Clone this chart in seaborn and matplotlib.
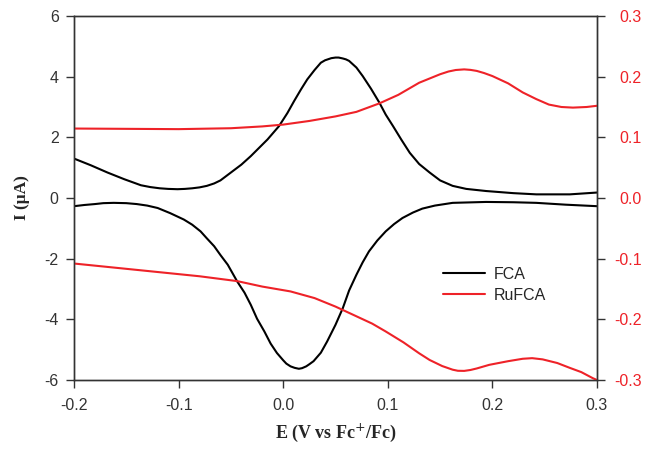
import numpy as np
import pandas as pd
import matplotlib
matplotlib.use("Agg")
import matplotlib.pyplot as plt
from matplotlib.lines import Line2D
import seaborn as sns

# FCA, anodic sweep (left axis, uA)
fca_fwd_x = [-0.200, -0.184, -0.168, -0.152, -0.136, -0.127, -0.118, -0.110, -0.101, -0.094,
             -0.087, -0.080, -0.073, -0.066, -0.060, -0.050, -0.040, -0.031, -0.015, -0.004,
             0.004, 0.0105, 0.017, 0.023, 0.030, 0.036, 0.040, 0.046, 0.050, 0.053,
             0.057, 0.060, 0.063, 0.070, 0.076, 0.084, 0.092, 0.098, 0.105, 0.113,
             0.121, 0.130, 0.140, 0.150, 0.162, 0.175, 0.194, 0.220, 0.242, 0.274,
             0.300]
fca_fwd_y = [1.30, 1.08, 0.84, 0.62, 0.42, 0.36, 0.32, 0.30, 0.29, 0.30,
             0.32, 0.35, 0.40, 0.48, 0.58, 0.84, 1.10, 1.38, 1.93, 2.37,
             2.80, 3.20, 3.58, 3.91, 4.22, 4.46, 4.54, 4.61, 4.63, 4.63,
             4.60, 4.57, 4.52, 4.30, 4.02, 3.60, 3.14, 2.75, 2.37, 1.92,
             1.49, 1.12, 0.84, 0.58, 0.40, 0.30, 0.23, 0.16, 0.12, 0.12,
             0.18]
# FCA, cathodic sweep
fca_rev_x = [0.300, 0.270, 0.242, 0.220, 0.194, 0.162, 0.145, 0.133, 0.124, 0.114,
             0.106, 0.098, 0.090, 0.082, 0.076, 0.070, 0.063, 0.057, 0.050, 0.042,
             0.036, 0.029, 0.025, 0.022, 0.018, 0.015, 0.011, 0.007, 0.003, 0.000,
             -0.006, -0.012, -0.018, -0.025, -0.031, -0.037, -0.044, -0.053, -0.060, -0.066,
             -0.073, -0.079, -0.087, -0.095, -0.108, -0.120, -0.130, -0.140, -0.150, -0.162,
             -0.172, -0.180, -0.190, -0.200]
fca_rev_y = [-0.27, -0.22, -0.16, -0.14, -0.13, -0.16, -0.25, -0.35, -0.48, -0.66,
             -0.86, -1.10, -1.40, -1.76, -2.12, -2.53, -3.05, -3.63, -4.18, -4.73,
             -5.10, -5.38, -5.48, -5.55, -5.61, -5.63, -5.60, -5.55, -5.46, -5.35,
             -5.11, -4.80, -4.40, -3.98, -3.52, -3.12, -2.75, -2.20, -1.88, -1.59,
             -1.33, -1.10, -0.88, -0.71, -0.50, -0.33, -0.25, -0.20, -0.17, -0.16,
             -0.17, -0.20, -0.23, -0.27]

# RuFCA (right axis)
ru_fwd_x = [-0.200, -0.150, -0.100, -0.050, -0.020, 0.000, 0.025, 0.050, 0.070, 0.092,
            0.110, 0.130, 0.150, 0.158, 0.165, 0.173, 0.179, 0.185, 0.192, 0.200,
            0.215, 0.229, 0.242, 0.254, 0.266, 0.277, 0.290, 0.300]
ru_fwd_y = [0.1145, 0.1140, 0.1135, 0.1150, 0.1180, 0.1210, 0.1270, 0.1345, 0.1420, 0.1560,
            0.1700, 0.1900, 0.2040, 0.2085, 0.2110, 0.2120, 0.2112, 0.2095, 0.2060, 0.2010,
            0.1890, 0.1740, 0.1630, 0.1540, 0.1500, 0.1490, 0.1500, 0.1520]
ru_rev_x = [0.300, 0.296, 0.285, 0.274, 0.262, 0.248, 0.238, 0.229, 0.215, 0.197,
            0.185, 0.179, 0.173, 0.167, 0.162, 0.152, 0.140, 0.130, 0.115, 0.098,
            0.085, 0.070, 0.050, 0.030, 0.007, -0.020, -0.044, -0.080, -0.120, -0.160,
            -0.200]
ru_rev_y = [-0.300, -0.297, -0.287, -0.280, -0.272, -0.266, -0.264, -0.265, -0.269, -0.275,
            -0.281, -0.2835, -0.285, -0.2848, -0.283, -0.277, -0.267, -0.256, -0.238, -0.220,
            -0.207, -0.195, -0.179, -0.165, -0.154, -0.146, -0.137, -0.129, -0.122, -0.115,
            -0.108]

fca = pd.DataFrame({"E": fca_fwd_x + fca_rev_x, "I": fca_fwd_y + fca_rev_y,
                    "sweep": ["fwd"] * len(fca_fwd_x) + ["rev"] * len(fca_rev_x)})
ru = pd.DataFrame({"E": ru_fwd_x + ru_rev_x, "I": ru_fwd_y + ru_rev_y,
                   "sweep": ["fwd"] * len(ru_fwd_x) + ["rev"] * len(ru_rev_x)})

sns.set_style("ticks")
plt.rcParams["font.family"] = ["Liberation Sans", "DejaVu Sans"]
plt.rcParams["axes.unicode_minus"] = False

RED = "#ee2228"
GREY = "#333333"
LW = 1.5

fig = plt.figure(figsize=(6.45, 4.51), dpi=100)
ax = fig.add_axes([74/645, 1-380/451, (597-74)/645, (380-16)/451])
ax2 = ax.twinx()

sns.lineplot(data=fca, x="E", y="I", units="sweep", sort=False, estimator=None,
             color="black", lw=LW, ax=ax, legend=False)
sns.lineplot(data=ru, x="E", y="I", units="sweep", sort=False, estimator=None,
             color=RED, lw=LW, ax=ax2, legend=False)

ax.set_xlim(-0.2, 0.3)
ax.set_ylim(-6, 6)
ax2.set_ylim(-0.3, 0.3)
ax.set_xticks(np.arange(-0.2, 0.31, 0.1))
ax.set_xticklabels(["-0.2", "-0.1", "0.0", "0.1", "0.2", "0.3"])
ax.set_yticks(np.arange(-6, 7, 2))
ax2.set_yticks(np.arange(-0.3, 0.31, 0.1))
ax2.set_yticklabels(["-0.3", "-0.2", "-0.1", "0.0", "0.1", "0.2", "0.3"])

ax.tick_params(axis="x", direction="out", length=6, width=1, pad=7, labelsize=11.5,
               color=GREY, labelcolor=GREY)
ax.tick_params(axis="y", direction="out", length=6, width=1, pad=5, labelsize=11.5,
               color=GREY, labelcolor=GREY)
ax2.tick_params(axis="y", direction="out", length=6, width=1, pad=26, labelsize=11.5,
                color=GREY, labelcolor=RED)
for lbl in ax2.get_yticklabels():
    lbl.set_horizontalalignment("right")
for a in (ax, ax2):
    for s in a.spines.values():
        s.set_visible(True)
        s.set_color(GREY)
        s.set_linewidth(1.0)

serif = ["Liberation Serif", "DejaVu Serif"]
ax.set_xlabel("E (V vs Fc$^{+}$/Fc)", family=serif, fontweight="bold", fontsize=13, labelpad=6)
ax.set_ylabel("I (\u03bcA)", family=serif, fontweight="bold", fontsize=12.5, labelpad=10)
ax2.set_xlabel("")
ax2.set_ylabel("")

handles = [Line2D([], [], color="black", lw=LW), Line2D([], [], color=RED, lw=LW)]
ax2.legend(handles, ["FCA", "RuFCA"], loc="upper left", bbox_to_anchor=(443/645, 1-267/451),
           bbox_transform=fig.transFigure, frameon=False, fontsize=11.5,
           handlelength=2.6, handletextpad=0.6, labelspacing=0.35, borderpad=0, borderaxespad=0)

fig.savefig("out.png", dpi=100)
